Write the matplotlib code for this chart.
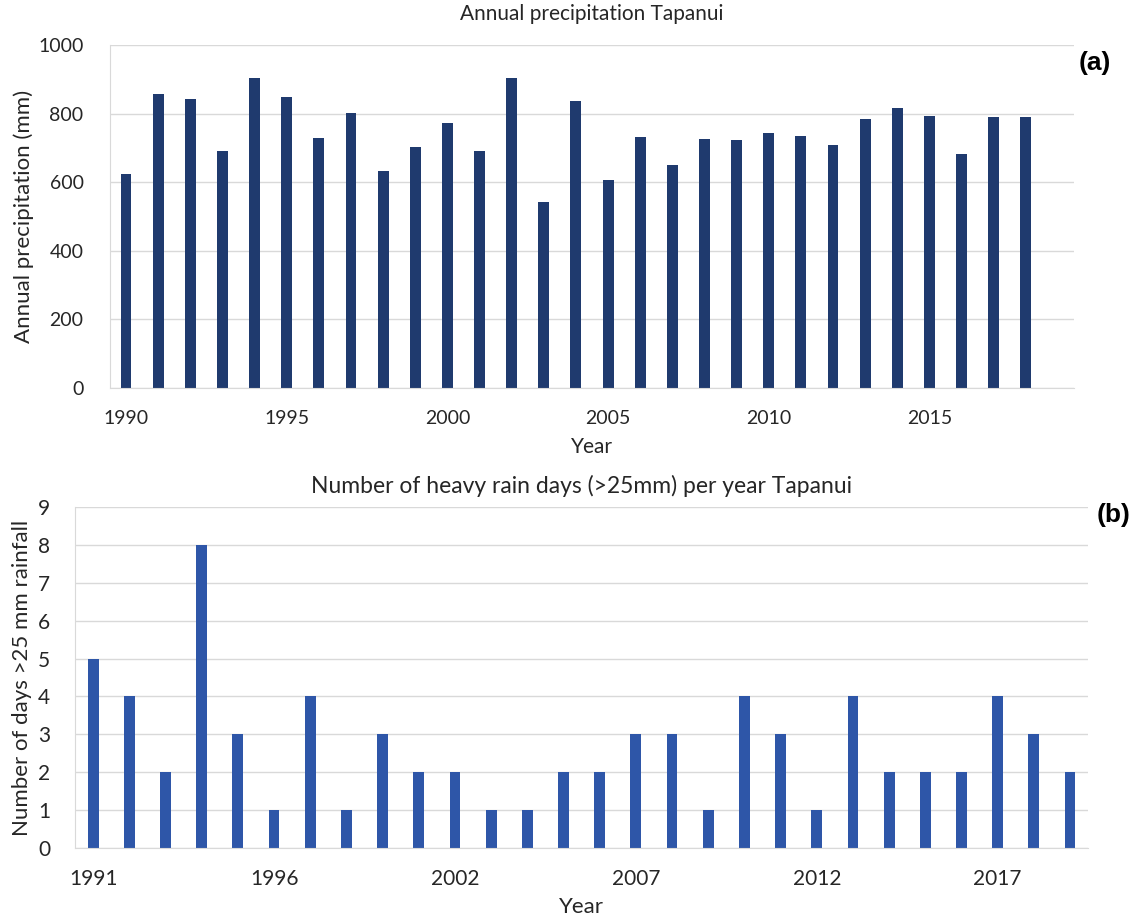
import matplotlib.pyplot as plt
import numpy as np

plt.rcParams['font.family'] = ['Lato', 'DejaVu Sans']

# (a) annual precipitation, mm (2019 is on the axis but has no value)
years_a = list(range(1990, 2020))
precip = [625, 858, 843, 691, 903, 848, 729, 802, 632, 703,
          773, 691, 903, 543, 837, 605, 732, 650, 727, 723,
          744, 735, 709, 783, 817, 792, 681, 789, 789, np.nan]
ticklabels_a = ['1990', '1995', '2000', '2005', '2010', '2015']

# (b) heavy rain days (>25 mm) per year
years_b = [1991, 1992, 1993, 1994, 1995, 1996, 1997, 1998, 1999, 2000,
           2002, 2003, 2004, 2005, 2006, 2007, 2008, 2009, 2010, 2011,
           2012, 2013, 2014, 2015, 2016, 2017, 2018, 2019]
heavy_days = [5, 4, 2, 8, 3, 1, 4, 1, 3, 2,
              2, 1, 1, 2, 2, 3, 3, 1, 4, 3,
              1, 4, 2, 2, 2, 4, 3, 2]
ticklabels_b = ['1991', '1996', '2002', '2007', '2012', '2017']

txt = '#262626'
grid = '#d9d9d9'

fig = plt.figure(figsize=(11.37, 9.17), dpi=100)

def style(ax):
    for s in ['top', 'right']:
        ax.spines[s].set_visible(False)
    ax.spines['left'].set_color(grid)
    ax.spines['bottom'].set_color(grid)
    ax.yaxis.grid(True, color=grid, linewidth=1)
    ax.set_axisbelow(True)
    ax.tick_params(length=0, colors=txt)

# --- (a)
ax1 = fig.add_axes([0.0967, 0.5769, 0.8479, 0.374])
x1 = np.arange(len(years_a))
ax1.bar(x1, precip, width=0.34, color='#1f3a6e')
ax1.set_xlim(-0.5, len(years_a) - 0.5)
ax1.set_ylim(0, 1000)
ax1.set_yticks(range(0, 1001, 200))
ax1.set_xticks([years_a.index(int(t)) for t in ticklabels_a])
ax1.set_xticklabels(ticklabels_a)
style(ax1)
ax1.tick_params(axis='y', pad=19, labelsize=14)
ax1.tick_params(axis='x', pad=16, labelsize=14)
ax1.set_xlabel('Year', fontsize=15, color=txt, labelpad=7)
ax1.set_ylabel('Annual precipitation (mm)', fontsize=16, color=txt, labelpad=3)
ax1.set_title('Annual precipitation Tapanui', fontsize=15, color=txt, pad=18)
fig.text(0.977, 0.931, '(a)', fontsize=19, fontweight='bold',
         family='Liberation Sans', ha='right', va='center')

# --- (b)
ax2 = fig.add_axes([0.066, 0.0752, 0.891, 0.3719])
x2 = np.arange(len(years_b))
ax2.bar(x2, heavy_days, width=0.3, color='#2e56a8')
ax2.set_xlim(-0.5, len(years_b) - 0.5)
ax2.set_ylim(0, 9)
ax2.set_yticks(range(0, 10))
ax2.set_xticks([years_b.index(int(t)) for t in ticklabels_b])
ax2.set_xticklabels(ticklabels_b)
style(ax2)
ax2.tick_params(axis='y', pad=18, labelsize=15)
ax2.tick_params(axis='x', pad=15, labelsize=15)
ax2.set_xlabel('Year', fontsize=16, color=txt, labelpad=6)
ax2.set_ylabel('Number of days >25 mm rainfall', fontsize=16, color=txt, labelpad=4)
ax2.set_title('Number of heavy rain days (>25mm) per year Tapanui', fontsize=16.5, color=txt, pad=10)
fig.text(0.994, 0.438, '(b)', fontsize=19, fontweight='bold',
         family='Liberation Sans', ha='right', va='center')

fig.savefig('out.png', dpi=100)
